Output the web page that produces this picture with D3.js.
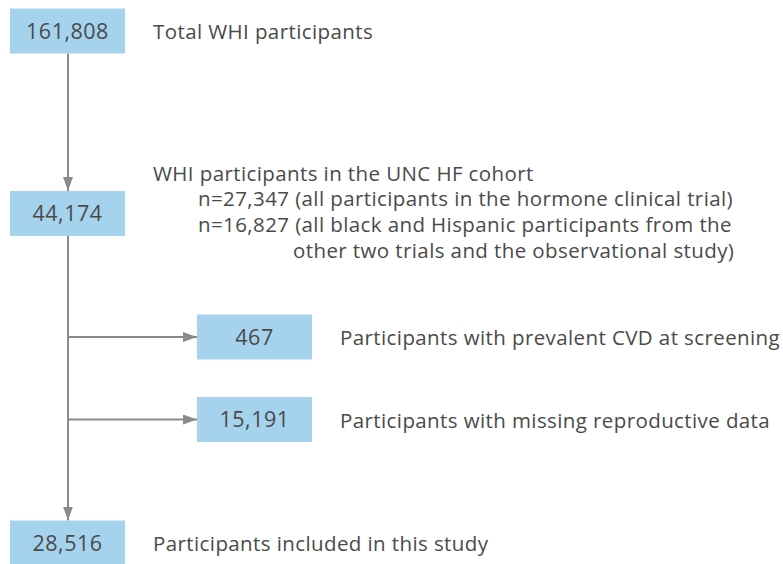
<!DOCTYPE html>
<html>
<head>
<meta charset="utf-8">
<script src="https://cdn.jsdelivr.net/npm/d3@7"></script>
<style>
  html, body { margin: 0; padding: 0; background: #fff; }
  svg { display: block; }
</style>
</head>
<body>
<div id="chart"></div>
<script>
// Etapes du diagramme de flux
const stepIds = ['total', 'cohort', 'cvd', 'missing', 'included'];
const stepCounts = [161808, 44174, 467, 15191, 28516];
const stepKinds = ['main', 'main', 'excluded', 'excluded', 'main'];
const stepLabels = [
  ['Total WHI participants'],
  ['WHI participants in the UNC HF cohort',
   'n=27,347 (all participants in the hormone clinical trial)',
   'n=16,827 (all black and Hispanic participants from the',
   'other two trials and the observational study)'],
  ['Participants with prevalent CVD at screening'],
  ['Participants with missing reproductive data'],
  ['Participants included in this study']
];
const labelIndents = [[0], [0, 45, 45, 140], [0], [0], [0]];

const W = 783, H = 564;
const boxW = 115, boxH = 45;
const FONT = '"Open Sans", "Noto Sans", sans-serif';
const boxColor = '#a5d3ee';
const lineColor = '#8a8a8a';
const textColor = '#4a4a4a';

const svg = d3.select('#chart').append('svg')
  .attr('width', W).attr('height', H)
  .attr('viewBox', [0, 0, W, H]);

// positions des lignes (centre des boites)
const y = d3.scaleOrdinal().domain(stepIds).range([31, 213.5, 337, 419.5, 543]);
const x = d3.scaleOrdinal().domain(['main', 'excluded']).range([10, 197]);
const spine = x('main') + 58;

svg.append('defs').append('marker')
  .attr('id', 'arrow')
  .attr('viewBox', '0 0 14 10')
  .attr('refX', 14).attr('refY', 5)
  .attr('markerWidth', 14).attr('markerHeight', 10)
  .attr('markerUnits', 'userSpaceOnUse')
  .attr('orient', 'auto')
  .append('path')
  .attr('d', 'M0,0L14,5L0,10Z')
  .attr('fill', lineColor);

const data = stepIds.map((id, i) => ({
  id, count: stepCounts[i], kind: stepKinds[i], lines: stepLabels[i], indent: labelIndents[i]
}));
const mains = data.filter(d => d.kind === 'main');
const excl = data.filter(d => d.kind === 'excluded');

// fleches verticales entre etapes principales
const links = svg.append('g');
links.selectAll('line.v')
  .data(d3.pairs(mains))
  .join('line')
  .attr('x1', spine).attr('x2', spine)
  .attr('y1', d => y(d[0].id) + boxH / 2)
  .attr('y2', d => y(d[1].id) - boxH / 2)
  .attr('stroke', lineColor).attr('stroke-width', 2)
  .attr('marker-end', 'url(#arrow)');

// fleches horizontales vers les exclusions
links.selectAll('line.h')
  .data(excl)
  .join('line')
  .attr('x1', spine)
  .attr('x2', d => x(d.kind))
  .attr('y1', d => y(d.id)).attr('y2', d => y(d.id))
  .attr('stroke', lineColor).attr('stroke-width', 2)
  .attr('marker-end', 'url(#arrow)');

const nodes = svg.append('g').selectAll('g')
  .data(data)
  .join('g')
  .attr('transform', d => `translate(${x(d.kind)},${y(d.id)})`);

nodes.append('rect')
  .attr('y', -boxH / 2)
  .attr('width', boxW).attr('height', boxH)
  .attr('fill', boxColor);

nodes.append('text')
  .attr('x', boxW / 2).attr('y', 7.5)
  .attr('text-anchor', 'middle')
  .attr('font-family', FONT).attr('font-size', 21.5)
  .attr('letter-spacing', 0.5)
  .attr('fill', textColor)
  .text(d => d3.format(',')(d.count));

// libelles
nodes.append('text')
  .attr('font-family', FONT).attr('font-size', 20.5)
  .attr('letter-spacing', 0.4)
  .attr('fill', textColor)
  .attr('transform', d => d.lines.length > 1 ? `translate(0,${-33})` : 'translate(0,8)')
  .selectAll('tspan')
  .data(d => d.lines.map((t, i) => ({ t, i, indent: d.indent[i] })))
  .join('tspan')
  .attr('x', d => boxW + 28 + d.indent)
  .attr('y', d => d.i * 25.7)
  .text(d => d.t);
</script>
</body>
</html>
